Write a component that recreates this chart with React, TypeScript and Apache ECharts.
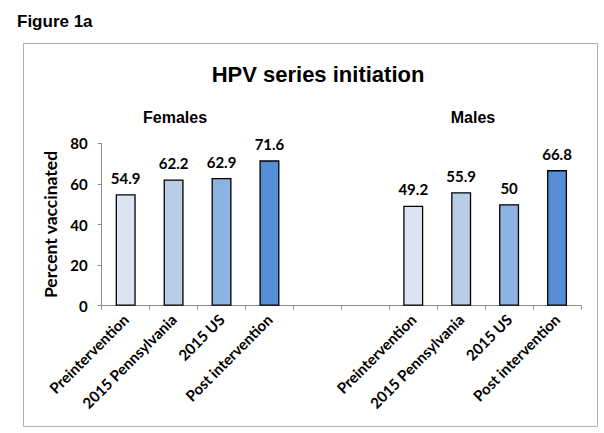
import React, { useEffect, useRef } from "react";
import * as echarts from "echarts";

const groupCategories = ["Preintervention", "2015 Pennsylvania", "2015 US", "Post intervention"];
const femalesValues = [54.9, 62.2, 62.9, 71.6];
const malesValues = [49.2, 55.9, 50, 66.8];
const barColors = ["#dce6f2", "#b9cde8", "#8db3e2", "#558ed5"];
const yTicks = [0, 20, 40, 60, 80];

const categories = [...groupCategories, "", "", ...groupCategories];
const values: (number | null)[] = [...femalesValues, null, null, ...malesValues];
const colorIdx = [0, 1, 2, 3, -1, -1, 0, 1, 2, 3];

const labelFont = "Lato, 'Open Sans', sans-serif";
const headFont = "'Liberation Sans', Arial, sans-serif";

export default function App() {
  const ref = useRef<HTMLDivElement>(null);
  useEffect(() => {
    if (!ref.current) return;
    const chart = echarts.init(ref.current, null, { renderer: "svg" });
    chart.setOption({
      animation: false,
      backgroundColor: "#ffffff",
      title: [
        { text: "Figure 1a", left: 12, top: 8, textStyle: { fontFamily: headFont, fontWeight: "bold", fontSize: 17, color: "#000" } },
        { text: "HPV series initiation", left: 313, top: 58, textAlign: "center", textStyle: { fontFamily: headFont, fontWeight: "bold", fontSize: 22, color: "#000" } },
        { text: "Females", left: 170, top: 104, textAlign: "center", textStyle: { fontFamily: headFont, fontWeight: "bold", fontSize: 16, color: "#000" } },
        { text: "Males", left: 468, top: 104, textAlign: "center", textStyle: { fontFamily: headFont, fontWeight: "bold", fontSize: 16, color: "#000" } },
      ],
      graphic: [
        { type: "rect", shape: { x: 23.5, y: 43.5, width: 574, height: 383 }, style: { fill: "none", stroke: "#b0b0b0", lineWidth: 1 }, silent: true },
      ],
      grid: { left: 101.7, right: 23, top: 143.3, bottom: 127.3, containLabel: false },
      xAxis: {
        type: "category",
        data: categories,
        axisLine: { show: true, lineStyle: { color: "#8c8c8c", width: 1 } },
        axisTick: { show: true, interval: 0, length: 4, lineStyle: { color: "#8c8c8c" } },
        axisLabel: { interval: 0, rotate: 45, margin: 11, fontFamily: labelFont, fontWeight: "bold", fontSize: 15, color: "#000" },
      },
      yAxis: {
        type: "value",
        min: yTicks[0],
        max: yTicks[yTicks.length - 1],
        interval: 20,
        name: "Percent vaccinated",
        nameLocation: "middle",
        nameGap: 40,
        nameTextStyle: { fontFamily: labelFont, fontWeight: "bold", fontSize: 17.5, color: "#000" },
        axisLine: { show: true, lineStyle: { color: "#8c8c8c", width: 1 } },
        axisTick: { show: true, length: 4, lineStyle: { color: "#8c8c8c" } },
        splitLine: { show: false },
        axisLabel: { margin: 14, fontFamily: labelFont, fontWeight: "bold", fontSize: 15, color: "#000" },
      },
      series: [
        {
          type: "bar",
          barWidth: 20,
          data: values.map((v, i) => ({
            value: v,
            itemStyle: { color: colorIdx[i] >= 0 ? barColors[colorIdx[i]] : "transparent", borderColor: "#000", borderWidth: 1.3 },
          })),
          label: { show: true, position: "top", distance: 9, fontFamily: labelFont, fontWeight: "bold", fontSize: 15, color: "#000" },
        },
      ],
    });
    return () => chart.dispose();
  }, []);
  return <div ref={ref} style={{ position: "fixed", left: 0, top: 0, width: 604, height: 433 }} />;
}
